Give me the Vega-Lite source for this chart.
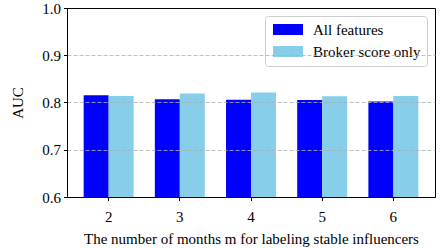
{
  "$schema": "https://vega.github.io/schema/vega-lite/v6.json",
  "autosize": {"type": "none"},
  "width": 368,
  "height": 189,
  "padding": {"left": 67, "top": 8, "right": 13, "bottom": 51},
  "config": {
    "font": "Liberation Serif",
    "view": {"stroke": "black", "strokeWidth": 1},
    "axis": {"domainColor": "black", "tickColor": "black", "tickSize": 3.5, "labelFont": "Liberation Serif", "titleFont": "Liberation Serif", "labelFontSize": 15, "titleFontSize": 15, "labelColor": "black", "titleColor": "black", "titleFontWeight": "normal"}
  },
  "data": {"values": [
    {"m": "2", "series": "All features", "auc": 0.8155},
    {"m": "2", "series": "Broker score only", "auc": 0.814},
    {"m": "3", "series": "All features", "auc": 0.807},
    {"m": "3", "series": "Broker score only", "auc": 0.819},
    {"m": "4", "series": "All features", "auc": 0.806},
    {"m": "4", "series": "Broker score only", "auc": 0.821},
    {"m": "5", "series": "All features", "auc": 0.8055},
    {"m": "5", "series": "Broker score only", "auc": 0.813},
    {"m": "6", "series": "All features", "auc": 0.802},
    {"m": "6", "series": "Broker score only", "auc": 0.814}
  ]},
  "mark": {"type": "bar", "clip": true},
  "encoding": {
    "x": {"field": "m", "type": "ordinal", "scale": {"paddingInner": 0.298, "paddingOuter": 0.234},
      "axis": {"title": "The number of months m for labeling stable influencers", "labelAngle": 0, "labelPadding": 9, "titlePadding": 7, "domain": true, "zindex": 1}},
    "xOffset": {"field": "series", "type": "nominal", "sort": ["All features", "Broker score only"], "scale": {"paddingInner": 0, "paddingOuter": 0}},
    "y": {"field": "auc", "type": "quantitative", "scale": {"domain": [0.6, 1.0], "zero": false, "nice": false},
      "axis": {"title": "AUC", "values": [0.6, 0.7, 0.8, 0.9, 1.0], "format": ".1f", "grid": true,
        "gridColor": {"condition": {"test": "datum.value <= 0.65 || datum.value >= 0.95", "value": "transparent"}, "value": "#b0b0b0"},
        "gridDash": [4, 2], "gridWidth": 0.8, "zindex": 1, "domain": true, "labelPadding": 3, "titlePadding": 16}},
    "color": {"field": "series", "type": "nominal", "sort": ["All features", "Broker score only"],
      "scale": {"domain": ["All features", "Broker score only"], "range": ["#0000FF", "#87CEEB"]},
      "legend": {"title": null, "orient": "none", "legendX": 198, "legendY": 8, "symbolType": "M-1,-1H4.45V1H-1Z", "symbolSize": 121, "symbolStrokeWidth": 0, "symbolOpacity": 1, "labelFontSize": 15, "labelFont": "Liberation Serif", "labelColor": "black", "labelOffset": 27, "strokeColor": "#cccccc", "fillColor": "white", "cornerRadius": 3, "padding": 6, "rowPadding": 6}
    }
  }
}
